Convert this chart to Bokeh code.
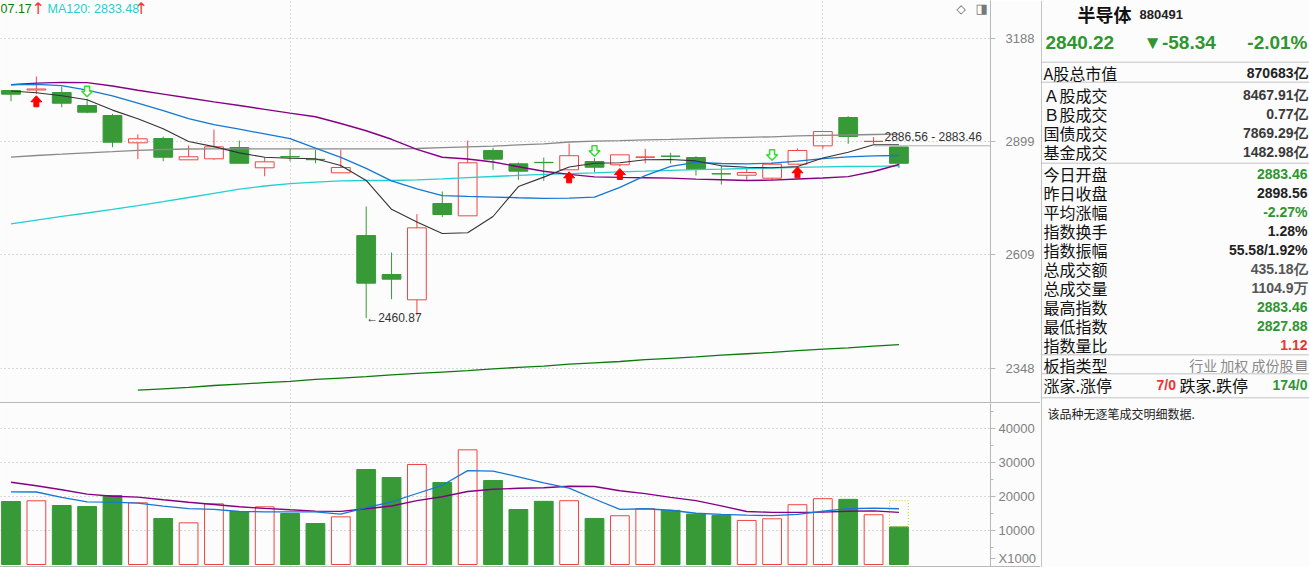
import math
from bokeh.plotting import figure
from bokeh.models import (Range1d, FixedTicker, BasicTickFormatter, Label, Grid,
                          ColumnDataSource, Spacer)
from bokeh.layouts import row, column
from bokeh.embed import file_html
from bokeh.resources import INLINE
from bokeh.core.properties import value

# ---------------- data ----------------
opens = [3038.1, 3039.6, 3032.5, 2996.3, 2968.6, 2894.5, 2906.1, 2849.3, 2852.0, 2881.9,
         2828.3, 2857.8, 2850.6, 2815.2, 2656.4, 2562.2, 2502.9, 2736.3, 2705.3, 2874.0,
         2838.8, 2842.6, 2823.0, 2844.8, 2836.2, 2856.0, 2859.2, 2855.4, 2813.0, 2809.0,
         2801.2, 2837.8, 2886.4, 2963.2, 2898.0, 2883.46]
highs = [3039.5, 3077.8, 3049.4, 3014.9, 2973.3, 2916.9, 2911.5, 2887.3, 2930.4, 2900.7,
         2856.2, 2878.4, 2875.8, 2876.6, 2728.8, 2615.0, 2709.4, 2766.9, 2900.7, 2881.1,
         2842.2, 2855.4, 2892.7, 2853.6, 2862.5, 2878.4, 2867.9, 2858.8, 2833.5, 2828.3,
         2843.0, 2879.3, 2924.9, 2966.7, 2909.6, 2883.46]
lows = [3008.2, 3028.9, 2991.5, 2975.0, 2882.7, 2851.0, 2845.6, 2849.3, 2849.3, 2840.0,
        2806.4, 2845.6, 2840.2, 2815.2, 2460.87, 2504.3, 2466.8, 2701.9, 2705.3, 2823.0,
        2797.0, 2794.4, 2823.0, 2816.8, 2831.7, 2840.2, 2839.6, 2808.2, 2784.9, 2795.2,
        2795.2, 2836.2, 2878.4, 2891.8, 2891.8, 2827.88]
closes = [3027.8, 3042.4, 3002.6, 2977.7, 2896.1, 2905.3, 2856.2, 2857.3, 2883.8, 2840.2,
          2844.0, 2856.8, 2849.6, 2829.1, 2541.7, 2551.1, 2675.4, 2708.6, 2841.4, 2851.0,
          2819.4, 2841.8, 2860.2, 2829.8, 2862.5, 2856.8, 2858.4, 2823.8, 2812.2, 2816.0,
          2837.8, 2874.0, 2924.9, 2911.5, 2898.56, 2840.22]

ma5 = [3036.7, 3031.7, 3023.6, 3012.1, 2983.5, 2959.5, 2932.3, 2898.0, 2884.3, 2867.6,
       2856.2, 2853.6, 2852.0, 2834.3, 2795.5, 2721.7, 2689.8, 2661.3, 2663.1, 2703.6,
       2779.7, 2804.0, 2830.4, 2840.2, 2841.4, 2849.3, 2850.1, 2846.4, 2833.5, 2829.8,
       2828.3, 2831.7, 2854.1, 2869.4, 2889.2, 2889.2]
ma10 = [3054.7, 3055.7, 3051.7, 3039.0, 3023.0, 3003.2, 2982.4, 2960.4, 2943.7, 2931.2,
        2918.5, 2905.6, 2880.6, 2856.0, 2826.7, 2794.2, 2773.6, 2756.4, 2754.4, 2752.8,
        2751.0, 2749.6, 2750.1, 2752.5, 2777.4, 2807.7, 2832.2, 2842.7, 2839.6, 2838.8,
        2840.4, 2845.9, 2852.2, 2857.0, 2859.6, 2860.7]
ma20 = [3054.2, 3059.0, 3061.0, 3060.4, 3050.8, 3038.7, 3028.0, 3017.1, 3006.5, 2996.3,
        2985.7, 2975.2, 2965.1, 2946.7, 2927.1, 2904.0, 2877.2, 2856.0, 2851.3, 2843.5,
        2831.2, 2819.2, 2811.1, 2804.6, 2803.4, 2802.4, 2801.5, 2798.8, 2797.1, 2795.2,
        2796.2, 2799.1, 2801.7, 2805.3, 2818.6, 2837.0]
ma60 = [2856.2, 2860.7, 2864.2, 2867.9, 2870.8, 2874.3, 2876.6, 2878.0, 2878.4, 2878.4,
        2878.4, 2878.4, 2878.4, 2878.4, 2878.4, 2878.4, 2879.3, 2881.4, 2883.5, 2885.9,
        2888.9, 2891.8, 2896.7, 2898.8, 2900.4, 2902.3, 2904.0, 2905.8, 2907.7, 2909.3,
        2910.7, 2913.1, 2914.4, 2915.5, 2916.9, 2917.9]
ma120 = [2685.1, 2694.8, 2704.1, 2712.4, 2721.4, 2730.8, 2740.9, 2751.6, 2762.3, 2773.1,
         2781.1, 2787.0, 2791.1, 2794.4, 2795.2, 2795.2, 2796.8, 2799.3, 2802.5, 2805.6,
         2808.5, 2811.1, 2813.2, 2815.2, 2817.6, 2819.4, 2821.8, 2823.4, 2824.7, 2826.5,
         2827.8, 2829.3, 2830.7, 2831.7, 2832.1, 2833.48]
ma250_x = [5, 6, 7, 8, 9, 10, 11, 12, 13, 14, 15, 16, 17, 18, 19, 20, 21, 22, 23, 24,
           25, 26, 27, 28, 29, 30, 31, 32, 33, 34, 35]
ma250 = [2302, 2305, 2308, 2312, 2315, 2318, 2321, 2325, 2328, 2331, 2335, 2338, 2341,
         2344, 2348, 2351, 2354, 2358, 2361, 2364, 2368, 2371, 2374, 2378, 2381, 2384,
         2388, 2391, 2394, 2398, 2401]

volumes = [18529, 18735, 17353, 17059, 20294, 18137, 13529, 12255, 17843, 15588,
           16961, 15000, 12059, 14020, 27941, 25588, 29412, 24118, 33725, 24706,
           16176, 18571, 18768, 13547, 14335, 16404, 15911, 14828, 14433, 12956,
           13448, 17586, 19360, 19163, 14631, 11049]
vol_ma5 = [21382, 21324, 19765, 18412, 18324, 18059, 17147, 16412, 16235, 15588,
           15500, 15500, 15500, 14794, 16706, 18441, 20882, 23294, 27600, 27471,
           25800, 24000, 22483, 19261, 16207, 16404, 15960, 15074, 14749, 14532,
           14365, 14729, 15665, 16404, 16601, 16404]
vol_ma10 = [24206, 23176, 21971, 20706, 20088, 19824, 19029, 18294, 17647, 16971,
            16500, 16088, 15706, 15618, 16412, 17206, 18794, 19941, 21471, 22118,
            22414, 22562, 23005, 22926, 21704, 20857, 19754, 18778, 17241, 15586,
            15320, 15320, 15419, 15675, 15773, 15320]
vol_forecast = 18768

up_signals = [1, 22, 24, 31]
down_signals = [3, 23, 30]
month_marks = [11, 32]
price_ticks = [2348, 2609, 2899, 3188]
vol_ticks = [10000, 20000, 30000, 40000]
vol_minor_ticks = [5000, 15000, 25000, 35000, 45000]
vol_unit_label = "X1000"
low_idx, low_val = 14, 2460.87
gap_idx, gap_hi, gap_lo = 34, 2886.56, 2883.46
hdr_ma_tail = "07.17"
hdr_ma120 = "MA120: 2833.48"

info_name, info_code = "半导体", "880491"
info_last, info_chg, info_pct = "2840.22", "▼-58.34", "-2.01%"
info_labels = ["A股总市值", "Ａ股成交", "Ｂ股成交", "国债成交", "基金成交", "今日开盘", "昨日收盘",
               "平均涨幅", "指数换手", "指数振幅", "总成交额", "总成交量", "最高指数", "最低指数",
               "指数量比", "板指类型"]
info_values = ["870683亿", "8467.91亿", "0.77亿", "7869.29亿", "1482.98亿", "2883.46", "2898.56",
               "-2.27%", "1.28%", "55.58/1.92%", "435.18亿", "1104.9万", "2883.46", "2827.88",
               "1.12", "行业 加权 成份股"]
info_value_colors = ["#222222", "#3a3a3a", "#3a3a3a", "#3a3a3a", "#3a3a3a", "#2f962f", "#222222",
                     "#2f962f", "#222222", "#222222", "#555555", "#555555", "#2f962f", "#2f962f",
                     "#ee3333", "#8a8a8a"]
rise_label, rise_val, fall_label, fall_val = "涨家.涨停", "7/0", "跌家.跌停", "174/0"
note_text = "该品种无逐笔成交明细数据."

# ---------------- styles / layout ----------------
BG = "#fcfcfc"
RED = "#f04444"
GREEN = "#379a37"
AXIS_C = "#b8b8b8"
GRID_C = "#b4b4b4"
LBL_C = "#808080"
FRAME_W = 990
AXIS_W = 50
LEFT_W = FRAME_W + AXIS_W
PRICE_H = 402
VOL_H = 163
RIGHT_W = 269
TOTAL_H = PRICE_H + 1 + VOL_H + 1
X0, X1 = -0.414, 38.609
Y0, Y1 = 2275.9, 3302.2
BAR_W = 0.74
NUM_FONT = "Liberation Sans"
CJK_FONT = "Noto Sans CJK SC"

LN_PER_PX = math.log(Y1 / Y0) / PRICE_H
IDX_PER_PX = (X1 - X0) / FRAME_W
idx = list(range(len(closes)))


def base_fig(height, y_range, y_type):
    f = figure(frame_width=FRAME_W, frame_height=height, x_range=Range1d(X0, X1),
               y_range=y_range, y_axis_type=y_type, y_axis_location="right",
               x_axis_type=None, output_backend="svg", toolbar_location=None,
               min_border_left=0, min_border_right=AXIS_W, min_border_top=0,
               min_border_bottom=0, background_fill_color=BG, border_fill_color=BG,
               outline_line_color=None)
    ax = f.yaxis[0]
    ax.axis_line_color = AXIS_C
    ax.major_tick_line_color = AXIS_C
    ax.major_tick_out = 5
    ax.major_tick_in = 0
    ax.minor_tick_in = 0
    ax.minor_tick_out = 3
    ax.minor_tick_line_color = AXIS_C
    ax.formatter = BasicTickFormatter(use_scientific=False)
    ax.major_label_text_font = NUM_FONT
    ax.major_label_text_font_size = "13px"
    ax.major_label_text_color = LBL_C
    f.ygrid.grid_line_color = GRID_C
    f.ygrid.grid_line_dash = "1 3"
    g = Grid(dimension=0, ticker=FixedTicker(ticks=month_marks), grid_line_color=GRID_C,
             grid_line_dash="1 3")
    f.add_layout(g)
    return f


# ---------------- price panel ----------------
p = base_fig(PRICE_H, Range1d(Y0, Y1), "log")
p.yaxis[0].ticker = FixedTicker(ticks=price_ticks, minor_ticks=[])
p.yaxis[0].minor_tick_line_color = None
p.yaxis[0].major_label_standoff = 10

up = [i for i in idx if closes[i] >= opens[i]]
dn = [i for i in idx if closes[i] < opens[i]]
src_up = ColumnDataSource(dict(
    x=up, top=[closes[i] for i in up], bottom=[opens[i] for i in up],
    high=[highs[i] for i in up], low=[lows[i] for i in up]))
src_dn = ColumnDataSource(dict(
    x=dn, top=[opens[i] for i in dn], bottom=[closes[i] for i in dn],
    high=[highs[i] for i in dn], low=[lows[i] for i in dn]))

p.segment(x0="x", y0="high", x1="x", y1="low", source=src_dn, line_color=GREEN, line_width=1)
p.vbar(x="x", width=BAR_W, top="top", bottom="bottom", source=src_dn,
       fill_color=GREEN, line_color=GREEN, line_width=1)
p.segment(x0="x", y0="high", x1="x", y1="top", source=src_up, line_color=RED, line_width=1)
p.segment(x0="x", y0="bottom", x1="x", y1="low", source=src_up, line_color=RED, line_width=1)
p.vbar(x="x", width=BAR_W, top="top", bottom="bottom", source=src_up,
       fill_color=None, line_color=RED, line_width=1)

p.line(ma250_x, ma250, line_color="#0a7a0a", line_width=1.3)
p.line(idx, ma120, line_color="#22d0d0", line_width=1.3)
p.line(idx, ma60, line_color="#8a8a8a", line_width=1.3)
p.line(idx, ma20, line_color="#850085", line_width=1.4)
p.line(idx, ma10, line_color="#1478d4", line_width=1.3)
p.line(idx, ma5, line_color="#333333", line_width=1.1)


def shape(ix, price, pts):
    xs = [ix + dx * IDX_PER_PX for dx, dy in pts]
    ys = [price * math.exp(-dy * LN_PER_PX) for dx, dy in pts]
    return xs, ys


up_pts = [(0, 2), (5.5, 8), (2.5, 8), (2.5, 13), (-2.5, 13), (-2.5, 8), (-5.5, 8)]
dn_pts = [(0, -2), (5.5, -7.5), (2.5, -7.5), (2.5, -12.5), (-2.5, -12.5), (-2.5, -7.5),
          (-5.5, -7.5)]
uxs, uys, dxs, dys = [], [], [], []
for i in up_signals:
    a, b = shape(i, lows[i], up_pts)
    uxs.append(a); uys.append(b)
for i in down_signals:
    a, b = shape(i, highs[i], dn_pts)
    dxs.append(a); dys.append(b)
p.patches(uxs, uys, fill_color="#ff0000", line_color="#ff0000", line_width=1)
p.patches(dxs, dys, fill_color=BG, line_color="#2ee02e", line_width=1.5)

# gap line + label
p.segment(x0=[gap_idx], y0=[gap_hi], x1=[X1], y1=[gap_hi], line_color="#b0b0b0", line_width=1)
p.text(x=[gap_idx + 0.43], y=[gap_hi], text=[f"{gap_hi:.2f} - {gap_lo:.2f}"],
       text_baseline="bottom", text_align="left", y_offset=-2,
       text_font=value(NUM_FONT), text_font_size="12px", text_color="#333333")
p.text(x=[low_idx], y=[low_val], text=[f"←{low_val:.2f}"], text_baseline="middle",
       text_align="left", text_font=value(NUM_FONT), text_font_size="12px",
       text_color="#333333")

# header
for xs_, txt, col, fs, fnt in [(0, hdr_ma_tail, "#0b7d0b", "12.5px", NUM_FONT),
                               (31, "↑", "#ff3030", "16px", "DejaVu Sans"),
                               (47, hdr_ma120, "#2acccc", "12.5px", NUM_FONT),
                               (134, "↑", "#ff3030", "16px", "DejaVu Sans")]:
    p.add_layout(Label(x=xs_, y=PRICE_H - 8, x_units="screen", y_units="screen", text=txt,
                       text_color=col, text_font=fnt, text_font_size=fs,
                       text_baseline="middle"))
p.add_layout(Label(x=956, y=PRICE_H - 8, x_units="screen", y_units="screen", text="◇",
                   text_color="#666666", text_font="DejaVu Sans", text_font_size="12px",
                   text_baseline="middle"))
p.add_layout(Label(x=975, y=PRICE_H - 8, x_units="screen", y_units="screen", text="◨",
                   text_color="#777777", text_font="DejaVu Sans", text_font_size="13px",
                   text_baseline="middle"))

# ---------------- volume panel ----------------
v = base_fig(VOL_H, Range1d(-588, 47353), "linear")
unit_tick = 1700
v.yaxis[0].ticker = FixedTicker(ticks=[unit_tick] + vol_ticks, minor_ticks=vol_minor_ticks)
v.yaxis[0].major_label_overrides = {unit_tick: vol_unit_label}
v.yaxis[0].major_label_standoff = 3
v.ygrid.ticker = FixedTicker(ticks=vol_ticks)

vsrc_up = ColumnDataSource(dict(x=up, top=[volumes[i] for i in up]))
vsrc_dn = ColumnDataSource(dict(x=dn, top=[volumes[i] for i in dn]))
v.vbar(x="x", width=BAR_W, top="top", bottom=0, source=vsrc_dn,
       fill_color=GREEN, line_color=GREEN, line_width=1)
v.vbar(x="x", width=BAR_W, top="top", bottom=0, source=vsrc_up,
       fill_color=None, line_color=RED, line_width=1)
v.vbar(x=[idx[-1]], width=BAR_W, top=[vol_forecast], bottom=[volumes[-1]],
       fill_color=None, line_color="#c8c800", line_dash="1 2", line_width=1)
v.line(idx, vol_ma10, line_color="#850085", line_width=1.4)
v.line(idx, vol_ma5, line_color="#1478d4", line_width=1.3)

sep1 = Spacer(width=LEFT_W, height=1, styles={"background-color": AXIS_C})
sep2 = Spacer(width=LEFT_W, height=1, styles={"background-color": AXIS_C})

# ---------------- info panel ----------------
info = figure(frame_width=RIGHT_W, frame_height=TOTAL_H, x_range=Range1d(1040, 1309),
              y_range=Range1d(567, 0), x_axis_type=None, y_axis_type=None,
              output_backend="svg", toolbar_location=None, min_border=0,
              background_fill_color=BG, border_fill_color=BG, outline_line_color=None)

sep_rows = [61.7, 81.7, 162.7, 354.3, 373.3, 397.3]
info.segment(x0=[1040] * len(sep_rows), y0=sep_rows, x1=[1309] * len(sep_rows), y1=sep_rows,
             line_color="#c4c4c4", line_width=1)
info.segment(x0=[1041], y0=[0], x1=[1041], y1=[567], line_color="#c4c4c4", line_width=1)

info.text(x=[1077], y=[13], text=[info_name], text_font=value(CJK_FONT), text_font_style="bold",
          text_font_size="18px", text_baseline="middle", text_color="#111111")
info.text(x=[1139], y=[14], text=[info_code], text_font=value(NUM_FONT), text_font_style="bold",
          text_font_size="13px", text_baseline="middle", text_color="#222222")
info.text(x=[1045, 1179, 1307], y=[42, 42, 42], text=[info_last, info_chg, info_pct],
          text_align=["left", "center", "right"], text_font=value(NUM_FONT),
          text_font_style="bold", text_font_size="19px", text_baseline="middle",
          text_color="#2f962f")

row_y = [72.3, 94.3, 113.6, 132.7, 151.7, 173, 192.3, 211.7, 230.7, 249.5, 268.5, 287.5,
         306.3, 325.5, 344.5, 364]
info.text(x=[1043] * len(info_labels), y=row_y, text=info_labels, text_font=value(CJK_FONT),
          text_font_size="16px", text_baseline="middle", text_color="#111111")
info.text(x=[1307] * (len(info_values) - 1), y=row_y[:-1], text=info_values[:-1],
          text_align="right", text_font=value(NUM_FONT), text_font_style="bold",
          text_font_size="14px", text_baseline="middle", text_color=info_value_colors[:-1])
info.text(x=[1293], y=[row_y[-1]], text=[info_values[-1]], text_align="right",
          text_font=value(CJK_FONT), text_font_size="14px", text_baseline="middle",
          text_color=info_value_colors[-1])
info.text(x=[1301], y=[row_y[-1]], text=["▤"], text_align="center", text_font=value("DejaVu Sans"),
          text_font_size="13px", text_baseline="middle", text_color="#666666")

info.text(x=[1043, 1179], y=[384.3, 384.3], text=[rise_label, fall_label],
          text_font=value(CJK_FONT), text_font_size="16px", text_baseline="middle",
          text_color="#111111")
info.text(x=[1156], y=[384.3], text=[rise_val], text_font=value(NUM_FONT),
          text_font_style="bold", text_font_size="14px", text_baseline="middle",
          text_color="#ee3333")
info.text(x=[1307], y=[384.3], text=[fall_val], text_align="right", text_font=value(NUM_FONT),
          text_font_style="bold", text_font_size="14px", text_baseline="middle",
          text_color="#2f962f")
info.text(x=[1047], y=[412.5], text=[note_text], text_font=value(CJK_FONT),
          text_font_size="12px", text_baseline="middle", text_color="#222222")

layout = row(column(p, sep1, v, sep2), info)
open("out.html", "w").write(file_html(layout, INLINE))
